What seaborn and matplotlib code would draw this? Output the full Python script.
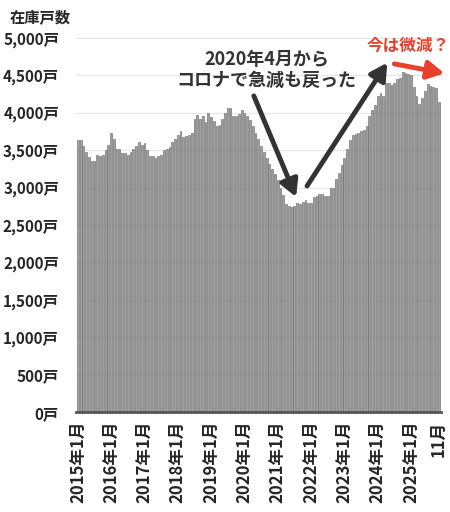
import matplotlib.pyplot as plt
import seaborn as sns
import pandas as pd

# 在庫戸数 (monthly, 2015-01 .. 2025-11)
stock_2015 = [3630, 3630, 3550, 3470, 3410, 3350, 3360, 3440, 3420, 3440, 3500, 3570]
stock_2016 = [3730, 3650, 3520, 3520, 3460, 3460, 3440, 3480, 3510, 3560, 3610, 3570]
stock_2017 = [3600, 3500, 3420, 3420, 3390, 3420, 3430, 3500, 3510, 3540, 3610, 3650]
stock_2018 = [3700, 3750, 3670, 3690, 3700, 3730, 3910, 3970, 3910, 3960, 3880, 4000]
stock_2019 = [3940, 3890, 3820, 3830, 3910, 3990, 4070, 4060, 3960, 3950, 3980, 4040]
stock_2020 = [4000, 3960, 3900, 3820, 3730, 3650, 3560, 3480, 3400, 3320, 3250, 3180]
stock_2021 = [3100, 3000, 2900, 2780, 2760, 2740, 2750, 2800, 2780, 2810, 2830, 2800]
stock_2022 = [2800, 2870, 2890, 2910, 2910, 2890, 2890, 3000, 2990, 3120, 3190, 3300]
stock_2023 = [3400, 3520, 3630, 3700, 3720, 3730, 3760, 3770, 3820, 3960, 4030, 4110]
stock_2024 = [4220, 4270, 4220, 4400, 4400, 4370, 4400, 4455, 4460, 4550, 4530, 4515]
stock_2025 = [4500, 4340, 4220, 4120, 4200, 4290, 4380, 4360, 4345, 4335, 4140]

years = list(range(2015, 2026))
stock = (stock_2015 + stock_2016 + stock_2017 + stock_2018 + stock_2019 + stock_2020
         + stock_2021 + stock_2022 + stock_2023 + stock_2024 + stock_2025)
months = [f'{y}-{m:02d}' for y in years for m in range(1, 13)][:len(stock)]

tick_pos = [i * 12 for i in range(len(years))] + [len(stock) - 1]
tick_labels = [f'{y}年1月' for y in years] + ['11月']
y_ticks = list(range(0, 5001, 500))
y_labels = [f'{v:,}戸' for v in y_ticks]

df = pd.DataFrame({'month': months, 'stock': stock})

sns.set_style('white')
plt.rcParams['font.family'] = ['Noto Sans CJK JP', 'DejaVu Sans']

fig = plt.figure(figsize=(4.5, 5.12), dpi=100)
ax = fig.add_axes([0.168, 0.195, 0.812, 0.731])

sns.barplot(data=df, x='month', y='stock', color='#a0a0a0', saturation=1,
            width=0.66, edgecolor='#636363', linewidth=0.4, ax=ax)

ax.set_ylim(0, 5000)
ax.set_xlim(-0.8, len(stock) - 0.2)
ax.set_yticks(y_ticks)
ax.set_yticklabels(y_labels, fontsize=11, fontweight='bold')
ax.set_xticks(tick_pos)
ax.set_xticklabels(tick_labels, rotation=90, fontsize=12, fontweight='bold')
ax.tick_params(axis='y', length=0, pad=12)
ax.tick_params(axis='x', length=0, pad=6)
ax.set_xlabel('')
ax.set_ylabel('')
ax.grid(axis='y', color='#e6e6e6', linewidth=0.8)
ax.set_axisbelow(True)
for s in ['top', 'right', 'left']:
    ax.spines[s].set_visible(False)
ax.spines['bottom'].set_color('#555555')
ax.spines['bottom'].set_linewidth(2)

fig.text(0.022, 0.966, '在庫戸数', fontsize=11, fontweight='bold', va='center')

# annotations
ax.text(68, 4570, '2020年4月から\nコロナで急減も戻った', ha='center', va='center',
        fontsize=13, fontweight='bold', color='#333333', linespacing=1.15)
ax.annotate('', xy=(79, 2840), xytext=(63, 4260),
            arrowprops=dict(arrowstyle='-|>,head_width=0.55,head_length=1.0',
                            color='#333333', lw=3.5))
ax.annotate('', xy=(112, 4700), xytext=(82, 2990),
            arrowprops=dict(arrowstyle='-|>,head_width=0.55,head_length=1.0',
                            color='#333333', lw=3.5))
ax.text(119, 4900, '今は微減？', ha='center', va='center',
        fontsize=12, fontweight='bold', color='#e8402a')
ax.annotate('', xy=(133, 4520), xytext=(113, 4660),
            arrowprops=dict(arrowstyle='-|>,head_width=0.55,head_length=1.0',
                            color='#e8402a', lw=3.5), annotation_clip=False)

fig.savefig('out.png', dpi=100)
